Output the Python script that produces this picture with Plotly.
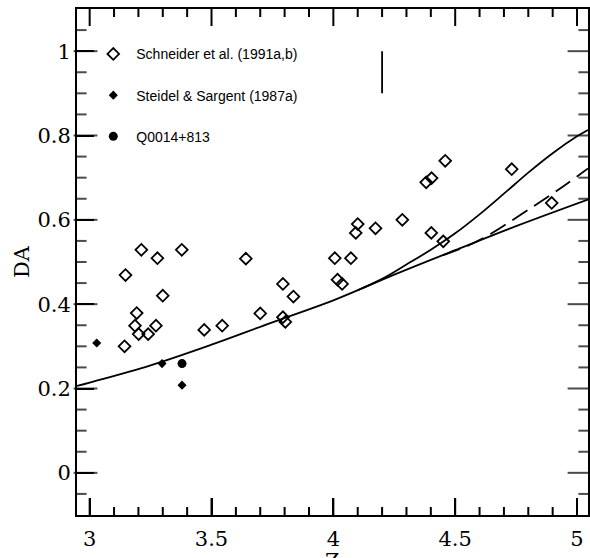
import plotly.graph_objects as go

# Schneider et al. (1991a,b) — open diamonds
schneider_z = [3.147, 3.212, 3.278, 3.378, 3.300, 3.193, 3.186, 3.201, 3.240, 3.272,
               3.143, 3.470, 3.544, 3.641, 3.700, 3.793, 3.836, 3.793, 3.803,
               4.006, 4.072, 4.017, 4.036, 4.100, 4.092, 4.173, 4.283, 4.402, 4.451,
               4.381, 4.403, 4.459, 4.732, 4.896]
schneider_da = [0.469, 0.529, 0.509, 0.529, 0.420, 0.379, 0.349, 0.329, 0.329, 0.349,
                0.300, 0.339, 0.349, 0.508, 0.378, 0.448, 0.418, 0.369, 0.358,
                0.509, 0.509, 0.458, 0.448, 0.590, 0.569, 0.580, 0.600, 0.569, 0.549,
                0.689, 0.699, 0.740, 0.720, 0.640]

# Steidel & Sargent (1987a) — filled diamonds
steidel_z = [3.029, 3.297, 3.379]
steidel_da = [0.308, 0.259, 0.208]

# Q0014+813 — filled circle
q_z = [3.379]
q_da = [0.259]

# Model curves
lower_z = [2.948, 3.0, 3.25, 3.5, 3.75, 4.0, 4.25, 4.5, 4.75, 5.045]
lower_da = [0.206, 0.214, 0.255, 0.304, 0.357, 0.409, 0.470, 0.528, 0.585, 0.648]
dashed_z = [4.45, 4.55, 4.65, 4.75, 4.85, 4.95, 5.045]
dashed_da = [0.516, 0.538, 0.568, 0.605, 0.643, 0.682, 0.722]
upper_z = [4.1, 4.2, 4.3, 4.4, 4.5, 4.6, 4.7, 4.8, 4.9, 5.0, 5.045]
upper_da = [0.433, 0.460, 0.494, 0.529, 0.568, 0.613, 0.662, 0.712, 0.758, 0.798, 0.813]

# Typical error bar
err_z = [4.2]
err_da = [0.95]
err_half = [0.05]

x_ticks = [3, 3.5, 4, 4.5, 5]
x_tick_labels = ["3", "3.5", "4", "4.5", "5"]
x_minor_ticks = [3.1, 3.2, 3.3, 3.4, 3.6, 3.7, 3.8, 3.9, 4.1, 4.2, 4.3, 4.4, 4.6, 4.7, 4.8, 4.9]
y_ticks = [0, 0.2, 0.4, 0.6, 0.8, 1]
y_tick_labels = ["0", "0.2", "0.4", "0.6", "0.8", "1"]
y_minor_ticks = [-0.05, 0.05, 0.1, 0.15, 0.25, 0.3, 0.35, 0.45, 0.5, 0.55,
                 0.65, 0.7, 0.75, 0.85, 0.9, 0.95, 1.05]

X_RANGE = [2.948, 5.045]
Y_RANGE = [-0.1, 1.1]
W, H = 590, 558
M = dict(l=77, r=2, t=9, b=43)
plot_w = W - M["l"] - M["r"]
plot_h = H - M["t"] - M["b"]
MAJOR_LEN, MINOR_LEN = 17, 8

fig = go.Figure()

fig.add_trace(go.Scatter(x=lower_z, y=lower_da, mode="lines",
                         line=dict(color="black", width=1.8, shape="spline"),
                         showlegend=False, hoverinfo="skip"))
fig.add_trace(go.Scatter(x=upper_z, y=upper_da, mode="lines",
                         line=dict(color="black", width=1.8, shape="spline"),
                         showlegend=False, hoverinfo="skip"))
fig.add_trace(go.Scatter(x=dashed_z, y=dashed_da, mode="lines",
                         line=dict(color="black", width=1.8, dash="18px,8px", shape="spline"),
                         showlegend=False, hoverinfo="skip"))
fig.add_trace(go.Scatter(x=err_z, y=err_da, mode="markers", marker=dict(size=1, color="rgba(0,0,0,0)"),
                         error_y=dict(type="data", array=err_half, visible=True, width=0,
                                      thickness=1.8, color="black"),
                         showlegend=False, hoverinfo="skip"))

ux = (X_RANGE[1] - X_RANGE[0]) / plot_w   # data units per pixel, x
uy = (Y_RANGE[1] - Y_RANGE[0]) / plot_h   # data units per pixel, y

# Bottom and top inside ticks: one-sided vertical error bars anchored on the frame
bx, blen = [], []
for vals, ln in ((x_ticks, MAJOR_LEN), (x_minor_ticks, MINOR_LEN)):
    for v in vals:
        bx.append(v)
        blen.append(ln * uy)
zeros = [0] * len(bx)
fig.add_trace(go.Scatter(x=bx, y=[Y_RANGE[0]] * len(bx), mode="markers", showlegend=False,
                         hoverinfo="skip", cliponaxis=False,
                         marker=dict(size=1, color="rgba(0,0,0,0)"),
                         error_y=dict(type="data", symmetric=False, array=blen, arrayminus=zeros,
                                      visible=True, width=0, thickness=2, color="black")))
fig.add_trace(go.Scatter(x=bx, y=[Y_RANGE[1]] * len(bx), mode="markers", showlegend=False,
                         hoverinfo="skip", cliponaxis=False,
                         marker=dict(size=1, color="rgba(0,0,0,0)"),
                         error_y=dict(type="data", symmetric=False, array=zeros, arrayminus=blen,
                                      visible=True, width=0, thickness=2, color="black")))

# Left and right inside ticks: line-shaped markers
vx, vy, vs = [], [], []
for vals, ln in ((y_ticks, MAJOR_LEN), (y_minor_ticks, MINOR_LEN)):
    for v in vals:
        vx += [X_RANGE[0] + ln / 2 * ux, X_RANGE[1] - ln / 2 * ux]
        vy += [v, v]
        vs += [ln, ln]
fig.add_trace(go.Scatter(x=vx, y=vy, mode="markers", showlegend=False, hoverinfo="skip",
                         cliponaxis=False,
                         marker=dict(symbol="line-ew", size=vs, color="black",
                                     line=dict(color="black", width=2))))

fig.add_trace(go.Scatter(x=schneider_z, y=schneider_da, mode="markers", name="Schneider et al. (1991a,b)",
                         legendgroup="a",
                         marker=dict(symbol="diamond-open", size=9, color="black", line=dict(width=1.8))))
fig.add_trace(go.Scatter(x=steidel_z, y=steidel_da, mode="markers", name="Steidel & Sargent (1987a)",
                         legendgroup="b",
                         marker=dict(symbol="diamond", size=7, color="black")))
fig.add_trace(go.Scatter(x=q_z, y=q_da, mode="markers", name="Q0014+813",
                         legendgroup="c",
                         marker=dict(symbol="circle", size=9, color="black")))

tick_font = dict(family="DejaVu Serif", size=21, color="black")

fig.update_xaxes(
    range=X_RANGE, tickmode="array", tickvals=x_ticks, ticktext=x_tick_labels,
    showline=True, linecolor="black", linewidth=2, mirror=True,
    ticks="inside", ticklen=MAJOR_LEN, tickwidth=2, tickcolor="black",
    showgrid=False, zeroline=False, tickfont=tick_font, automargin=False,
    ticklabelstandoff=4,
)
fig.update_yaxes(
    range=Y_RANGE, tickmode="array", tickvals=y_ticks, ticktext=y_tick_labels,
    showline=True, linecolor="black", linewidth=2, mirror=True,
    ticks="inside", ticklen=MAJOR_LEN, tickwidth=2, tickcolor="black",
    showgrid=False, zeroline=False, tickfont=tick_font, automargin=False,
    title=dict(text="DA", font=tick_font, standoff=2),
)

fig.add_annotation(text="Z", xref="paper", yref="paper", x=0.5, y=-0.0632,
                   xanchor="center", yanchor="top", showarrow=False, font=tick_font)

fig.update_layout(
    width=W, height=H,
    margin=M,
    paper_bgcolor="white", plot_bgcolor="white",
    legend=dict(x=0.026, y=0.942, xanchor="left", yanchor="top", bgcolor="rgba(0,0,0,0)",
                font=dict(family="Liberation Sans", size=14, color="black"),
                tracegroupgap=20, itemwidth=36),
)

fig.write_html("out.html")
